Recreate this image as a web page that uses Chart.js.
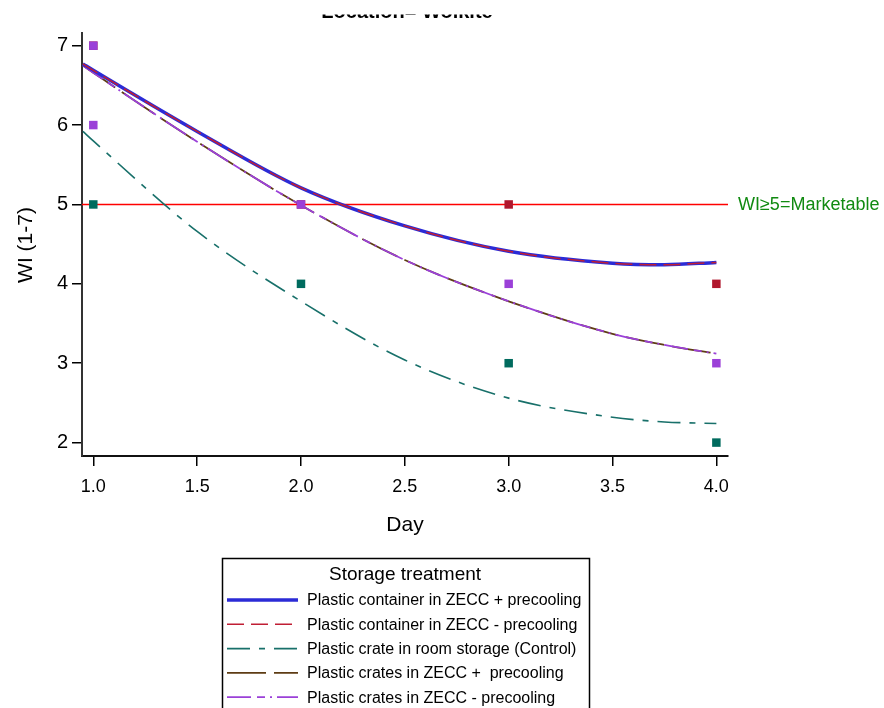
<!DOCTYPE html>
<html>
<head>
<meta charset="utf-8">
<script src="https://cdn.jsdelivr.net/npm/chart.js@4/dist/chart.umd.min.js"></script>
<style>
  body { margin: 0; background: #fff; }
</style>
</head>
<body>
<canvas id="chart" width="884" height="708"></canvas>
<script>
'use strict';

// observed scores
var days = [1, 2, 3, 4];
var containerMinusPts = [7, 5, 5, 4];
var controlPts = [5, 4, 3, 2];
var cratesDays = [1, 1, 2, 3, 4];
var cratesPts = [7, 6, 5, 4, 3];

// fitted curves
var fitDays = [0.95, 1, 1.5, 2, 2.5, 3, 3.5, 3.75, 4];
var containerPlusFit = [6.77, 6.69, 5.92, 5.21, 4.73, 4.41, 4.26, 4.24, 4.27];
var containerMinusFit = [6.77, 6.69, 5.92, 5.21, 4.73, 4.41, 4.26, 4.24, 4.27];
var controlFit = [5.92, 5.80, 4.66, 3.78, 3.04, 2.56, 2.32, 2.26, 2.24];
var cratesPlusFit = [6.75, 6.66, 5.79, 4.99, 4.30, 3.78, 3.37, 3.23, 3.12];
var cratesMinusFit = [6.75, 6.66, 5.79, 4.99, 4.30, 3.78, 3.37, 3.23, 3.12];

var treatments = ['Plastic container in ZECC + precooling', 'Plastic container in ZECC - precooling', 'Plastic crate in room storage (Control)', 'Plastic crates in ZECC +  precooling', 'Plastic crates in ZECC - precooling'];
var marketable = 5;
var xTicks = [1.0, 1.5, 2.0, 2.5, 3.0, 3.5, 4.0];

var colBlue = '#2b2bd6';
var colRed = '#c01e34';
var colTeal = '#18706a';
var colBrown = '#5e3c14';
var colPurple = '#9b40d8';

function pts(xs, ys) {
  var out = [];
  for (var i = 0; i < xs.length; i++) {
    out.push({x: xs[i], y: ys[i]});
  }
  return out;
}

function markers(data, color) {
  return {data: data, showLine: false, pointStyle: 'rect', pointRadius: 6, pointHoverRadius: 6,
    backgroundColor: color, borderWidth: 0};
}

function curve(data, color, width, dash) {
  return {data: data, showLine: true, pointRadius: 0, borderColor: color, borderWidth: width,
    borderDash: dash, cubicInterpolationMode: 'monotone', fill: false};
}

var datasets = [
  markers(pts(cratesDays, cratesPts), colPurple),
  markers(pts(days, containerMinusPts), '#b0172d'),
  markers(pts(days, controlPts), '#006b5e'),
  curve(pts(fitDays, containerMinusFit), colRed, 1.5, [17, 7]),
  curve(pts(fitDays, containerPlusFit), colBlue, 3.5, []),
  curve(pts(fitDays, cratesMinusFit), colPurple, 1.8, [24, 6, 8, 5, 2, 5]),
  curve(pts(fitDays, cratesPlusFit), colBrown, 1.8, [39, 8]),
  curve(pts(fitDays, controlFit), colTeal, 1.6, [23, 9, 6, 9])
];
// legend rows -> dataset index
var legendIdx = [4, 3, 7, 6, 5];

var extras = {
  id: 'extras',
  beforeDatasetsDraw: function(chart) {
    var ctx = chart.ctx;
    var area = chart.chartArea;
    var y = chart.scales.y.getPixelForValue(marketable);
    ctx.save();
    ctx.strokeStyle = '#ff0000';
    ctx.lineWidth = 1.5;
    ctx.beginPath();
    ctx.moveTo(area.left, y);
    ctx.lineTo(area.right, y);
    ctx.stroke();
    ctx.restore();
  },
  afterDraw: function(chart) {
    var ctx = chart.ctx;
    var y5 = chart.scales.y.getPixelForValue(marketable);
    ctx.save();
    ctx.fillStyle = '#118a11';
    ctx.font = '18px "Liberation Sans", Arial, sans-serif';
    ctx.textBaseline = 'middle';
    ctx.textAlign = 'left';
    ctx.fillText('WI\u22655=Marketable', 738, y5 + 1);

    // title, cut off at the top edge
    ctx.save();
    ctx.beginPath();
    ctx.rect(0, 14.5, 884, 12);
    ctx.clip();
    ctx.fillStyle = '#000';
    ctx.font = 'bold 20px "Liberation Sans", Arial, sans-serif';
    ctx.textAlign = 'center';
    ctx.textBaseline = 'alphabetic';
    ctx.fillText('Location= Wolkite', 407, 18);
    ctx.restore();

    // axis titles
    ctx.fillStyle = '#000';
    ctx.font = '21px "Liberation Sans", Arial, sans-serif';
    ctx.textAlign = 'center';
    ctx.textBaseline = 'middle';
    ctx.fillText('Day', 405, 525);
    ctx.save();
    ctx.translate(26, 245);
    ctx.rotate(-Math.PI / 2);
    ctx.fillText('WI (1-7)', 0, 0);
    ctx.restore();

    // legend box
    ctx.strokeStyle = '#000';
    ctx.lineWidth = 1.5;
    ctx.strokeRect(222.5, 558.5, 367, 170);
    ctx.font = '19px "Liberation Sans", Arial, sans-serif';
    ctx.fillText('Storage treatment', 405, 575);
    ctx.font = '16px "Liberation Sans", Arial, sans-serif';
    ctx.textAlign = 'left';
    for (var i = 0; i < treatments.length; i++) {
      var ds = chart.data.datasets[legendIdx[i]];
      var ly = 600 + i * 24.3;
      ctx.save();
      ctx.strokeStyle = ds.borderColor;
      ctx.lineWidth = ds.borderWidth;
      ctx.setLineDash(ds.borderDash);
      ctx.beginPath();
      ctx.moveTo(227, ly);
      ctx.lineTo(298, ly);
      ctx.stroke();
      ctx.restore();
      ctx.fillText(treatments[i], 307, ly + 1);
    }
    ctx.restore();
  }
};

var ctx = document.getElementById('chart').getContext('2d');

var chart = new Chart(ctx, {
  type: 'scatter',
  data: {datasets: datasets},
  options: {
    responsive: false,
    animation: false,
    layout: {padding: {top: 33, right: 156, left: 0, bottom: 0}},
    plugins: {legend: {display: false}, tooltip: {enabled: false}, title: {display: false}},
    scales: {
      x: {
        type: 'linear',
        min: 0.9456,
        max: 4.056,
        afterBuildTicks: function(scale) {
          scale.ticks = xTicks.map(function(v) { return {value: v}; });
        },
        ticks: {
          color: '#000',
          padding: 10,
          maxRotation: 0,
          font: {family: '"Liberation Sans Narrow", "Liberation Sans", Arial', size: 18},
          callback: function(v) { return Number(v).toFixed(1); }
        },
        grid: {display: true, drawOnChartArea: false, drawTicks: true, tickLength: 10, color: '#000', lineWidth: 1.5},
        border: {display: true, color: '#111', width: 2},
        afterFit: function(scale) { scale.height = 252; }
      },
      y: {
        min: 1.831,
        max: 7.16,
        ticks: {
          stepSize: 1,
          includeBounds: false,
          color: '#000',
          padding: 4,
          font: {family: '"Liberation Sans", Arial', size: 20}
        },
        grid: {display: true, drawOnChartArea: false, drawTicks: true, tickLength: 10, color: '#000', lineWidth: 1.5},
        border: {display: true, color: '#333', width: 2},
        afterFit: function(scale) { scale.width = 82; }
      }
    }
  },
  plugins: [extras]
});
</script>
</body>
</html>
